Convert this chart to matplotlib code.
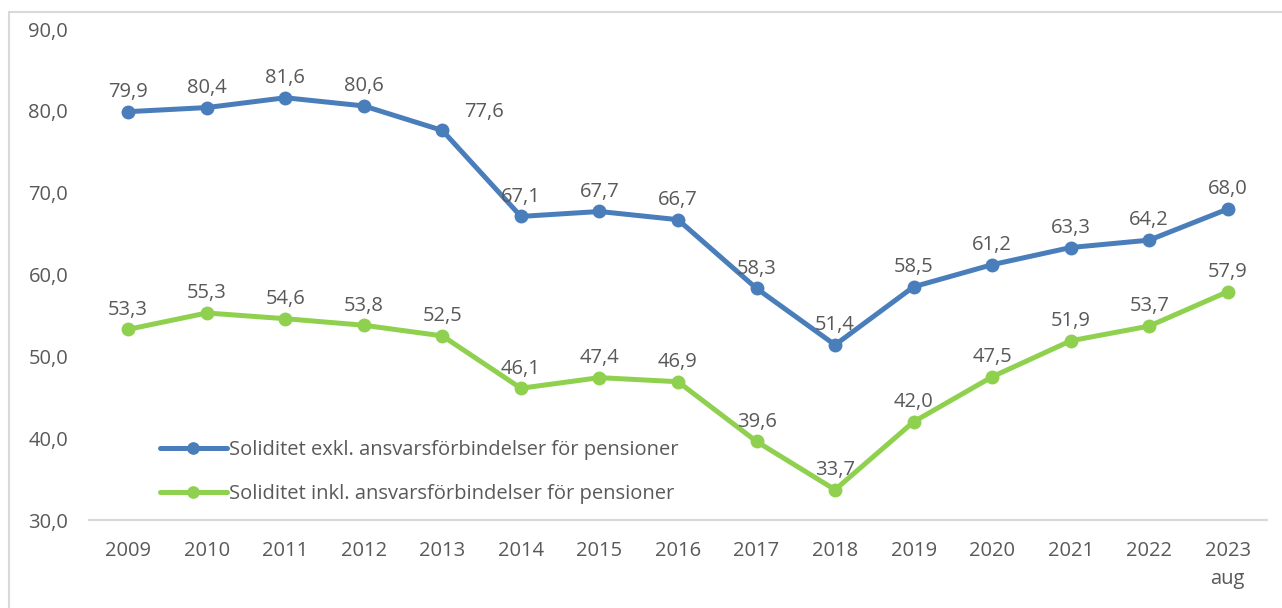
import matplotlib
matplotlib.use("Agg")
import matplotlib.pyplot as plt
from matplotlib.patches import Rectangle

# Data
years = ["2009", "2010", "2011", "2012", "2013", "2014", "2015", "2016",
         "2017", "2018", "2019", "2020", "2021", "2022", "2023\naug"]
exkl = [79.9, 80.4, 81.6, 80.6, 77.6, 67.1, 67.7, 66.7, 58.3, 51.4,
        58.5, 61.2, 63.3, 64.2, 68.0]
inkl = [53.3, 55.3, 54.6, 53.8, 52.5, 46.1, 47.4, 46.9, 39.6, 33.7,
        42.0, 47.5, 51.9, 53.7, 57.9]
label_exkl = "Soliditet exkl. ansvarsförbindelser för pensioner"
label_inkl = "Soliditet inkl. ansvarsförbindelser för pensioner"

blue = "#4A7EBB"
green = "#8FD14F"
txt = "#595959"
fs = 14.5

plt.rcParams["font.family"] = ["Open Sans", "DejaVu Sans"]
plt.rcParams["font.size"] = fs

fig = plt.figure(figsize=(12.82, 6.08), dpi=100)
ax = fig.add_axes([0.0694, 0.1447, 0.9189, 0.8076])

x = list(range(len(years)))
ax.plot(x, exkl, color=blue, lw=3.6, marker="o", ms=9, label=label_exkl,
        solid_capstyle="round")
ax.plot(x, inkl, color=green, lw=3.6, marker="o", ms=9, label=label_inkl,
        solid_capstyle="round")


def fmt(v):
    return f"{v:.1f}".replace(".", ",")


for i, v in enumerate(exkl):
    # 2013 label sits to the upper right of its point
    off = (30, 6) if i == 4 else (0, 7)
    ax.annotate(fmt(v), (i, v), xytext=off, textcoords="offset points",
                ha="center", va="bottom", color=txt)
for i, v in enumerate(inkl):
    ax.annotate(fmt(v), (i, v), xytext=(0, 7), textcoords="offset points",
                ha="center", va="bottom", color=txt)

ax.set_xlim(-0.5, len(years) - 0.5)
ax.set_ylim(30, 90)
ax.set_yticks(range(30, 91, 10))
ax.set_yticklabels([fmt(t) for t in range(30, 91, 10)])
ax.set_xticks(x)
ax.set_xticklabels(years, linespacing=1.55, va="top")
ax.tick_params(axis="both", length=0, colors=txt, labelsize=fs)
ax.tick_params(axis="y", pad=15)
ax.tick_params(axis="x", pad=15)

for s in ["top", "left", "right"]:
    ax.spines[s].set_visible(False)
ax.spines["bottom"].set_color("#D9D9D9")
ax.spines["bottom"].set_linewidth(1.6)

leg = ax.legend(loc="lower left", bbox_to_anchor=(0.045, -0.005),
                frameon=False, handlelength=3.3, handletextpad=0.1,
                labelspacing=1.2, fontsize=fs, labelcolor=txt,
                markerscale=0.9)

# outer chart border
fig.add_artist(Rectangle((9 / 1282, -0.1), 1.2, 1.1 - 12 / 608,
                         transform=fig.transFigure, fill=False,
                         edgecolor="#D9D9D9", lw=1.5, clip_on=False))

fig.savefig("out.png", dpi=100)
